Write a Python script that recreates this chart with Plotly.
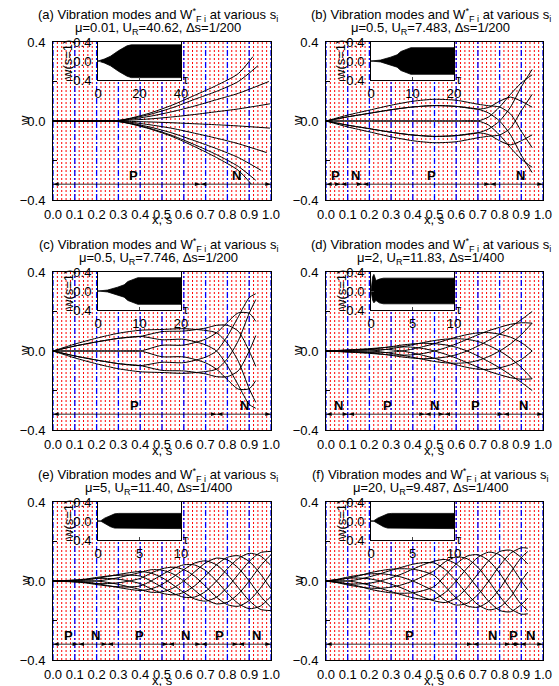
import plotly.graph_objects as go

FONT = "Liberation Sans, Arial, Helvetica, sans-serif"
W, H = 559, 686

# ---------------- data ----------------
panel_tags = ["(a)", "(b)", "(c)", "(d)", "(e)", "(f)"]
mu_vals = ["0.01", "0.5", "0.5", "2", "5", "20"]
ur_vals = ["40.62", "7.483", "7.746", "11.83", "11.40", "9.487"]
ds_vals = ["1/200", "1/200", "1/200", "1/400", "1/400", "1/400"]

x_ticks = [0.0, 0.1, 0.2, 0.3, 0.4, 0.5, 0.6, 0.7, 0.8, 0.9, 1.0]
x_ticktext = ["0.0", "0.1", "0.2", "0.3", "0.4", "0.5", "0.6", "0.7", "0.8", "0.9", "1.0"]
y_ticks = [-0.4, 0.0, 0.4]
y_ticktext = ["\u22120.4", "0.0", "0.4"]

inset_tmax = [40, 20, 20, 10, 10, 10]
inset_ticks = [[0, 20, 40], [0, 10, 20], [0, 10, 20], [0, 5, 10], [0, 5, 10], [0, 5, 10]]

# inset envelopes of w(s=1) vs tau
inset_tau = [
    [0, 3, 6, 10, 14, 16, 40],
    [0, 2.3, 4.7, 6.3, 7.2, 8.8, 9.6, 20],
    [0, 2.3, 4.7, 6.3, 7.2, 8.8, 9.6, 20],
    [0, 0.2, 0.35, 0.6, 1.0, 1.5, 10],
    [0, 0.3, 0.8, 1.5, 2.0, 2.5, 10],
    [0, 0.3, 0.8, 1.5, 2.0, 2.5, 10],
]
inset_up = [
    [0, 0.04, 0.10, 0.22, 0.32, 0.34, 0.34],
    [0, 0.02, 0.08, 0.13, 0.20, 0.25, 0.28, 0.28],
    [0, 0.02, 0.08, 0.13, 0.20, 0.25, 0.28, 0.28],
    [0, 0.30, 0.35, 0.22, 0.25, 0.27, 0.27],
    [0, 0.0, 0.06, 0.12, 0.15, 0.16, 0.16],
    [0, 0.0, 0.06, 0.12, 0.15, 0.16, 0.16],
]
inset_lo = [
    [0, -0.04, -0.10, -0.22, -0.32, -0.35, -0.35],
    [0, -0.02, -0.08, -0.13, -0.20, -0.25, -0.28, -0.28],
    [0, -0.02, -0.08, -0.13, -0.20, -0.25, -0.28, -0.28],
    [0, -0.20, -0.25, -0.20, -0.25, -0.27, -0.27],
    [0, -0.0, -0.06, -0.12, -0.15, -0.16, -0.16],
    [0, -0.0, -0.06, -0.12, -0.15, -0.16, -0.16],
]

# (a) mode shapes: each line its own s / w lists
curves_a = [
    ([0, 0.28, 0.35, 0.45, 0.55, 0.65, 0.75, 0.85, 0.917], [0, 0, 0.013, 0.042, 0.082, 0.13, 0.18, 0.24, 0.326]),
    ([0, 0.28, 0.35, 0.45, 0.55, 0.65, 0.75, 0.85, 0.94], [0, 0, 0.011, 0.035, 0.068, 0.11, 0.15, 0.20, 0.28]),
    ([0, 0.28, 0.35, 0.45, 0.55, 0.65, 0.75, 0.85, 0.99], [0, 0, 0.008, 0.025, 0.048, 0.076, 0.108, 0.14, 0.20]),
    ([0, 0.28, 0.35, 0.45, 0.55, 0.65, 0.75, 0.85, 0.995], [0, 0, 0.004, 0.011, 0.021, 0.033, 0.047, 0.061, 0.087]),
    ([0, 0.28, 0.35, 0.45, 0.55, 0.65, 0.75, 0.85, 0.995], [0, 0, -0.002, -0.005, -0.009, -0.014, -0.019, -0.025, -0.036]),
    ([0, 0.28, 0.35, 0.45, 0.55, 0.65, 0.75, 0.85, 0.98], [0, 0, -0.006, -0.02, -0.038, -0.062, -0.087, -0.115, -0.16]),
    ([0, 0.28, 0.35, 0.45, 0.55, 0.65, 0.75, 0.85, 0.955], [0, 0, -0.01, -0.032, -0.062, -0.10, -0.14, -0.185, -0.25]),
    ([0, 0.28, 0.35, 0.45, 0.55, 0.65, 0.75, 0.85, 0.93], [0, 0, -0.012, -0.039, -0.075, -0.12, -0.17, -0.23, -0.30]),
    ([0, 0.28, 0.35, 0.45, 0.55, 0.65, 0.75, 0.85, 0.91], [0, 0, -0.013, -0.042, -0.08, -0.13, -0.185, -0.25, -0.32]),
]

# (b)-(f): mode shapes as tables, one row per s, one column per snapshot
b_s = [0, 0.1, 0.2, 0.3, 0.4, 0.5, 0.6, 0.7, 0.75, 0.8, 0.85, 0.9, 0.95]
b_w = [
    [0, 0, 0, 0, 0, 0, 0, 0],
    [0.03, 0.021, 0, -0.021, -0.03, -0.021, 0, 0.021],
    [0.055, 0.039, 0, -0.039, -0.055, -0.039, 0, 0.039],
    [0.08, 0.057, 0, -0.057, -0.08, -0.057, 0, 0.057],
    [0.1, 0.071, 0, -0.071, -0.1, -0.071, 0, 0.071],
    [0.11, 0.078, 0, -0.078, -0.11, -0.078, 0, 0.078],
    [0.105, 0.074, 0, -0.074, -0.105, -0.074, 0, 0.074],
    [0.085, 0.06, 0, -0.06, -0.085, -0.06, 0, 0.06],
    [0.077, 0.069, 0.021, -0.04, -0.077, -0.069, -0.021, 0.04],
    [0.071, 0.1, 0.071, 0, -0.071, -0.1, -0.071, 0],
    [0.036, 0.121, 0.135, 0.07, -0.036, -0.121, -0.135, -0.07],
    [-0.052, 0.1, 0.193, 0.173, 0.052, -0.1, -0.193, -0.173],
    [-0.135, 0.07, 0.234, 0.261, 0.135, -0.07, -0.234, -0.261],
]
c_s = [0, 0.1, 0.2, 0.3, 0.4, 0.5, 0.6, 0.7, 0.75, 0.8, 0.85, 0.9, 0.93]
c_w = [
    [0, 0, 0, 0, 0, 0, 0, 0],
    [0.035, 0.025, 0, -0.025, -0.035, -0.025, 0, 0.025],
    [0.065, 0.046, 0, -0.046, -0.065, -0.046, 0, 0.046],
    [0.09, 0.064, 0, -0.064, -0.09, -0.064, 0, 0.064],
    [0.105, 0.074, 0, -0.074, -0.105, -0.074, 0, 0.074],
    [0.109, 0.098, 0.029, -0.057, -0.109, -0.098, -0.029, 0.057],
    [0.113, 0.101, 0.03, -0.059, -0.113, -0.101, -0.03, 0.059],
    [0.104, 0.116, 0.06, -0.031, -0.104, -0.116, -0.06, 0.031],
    [0.092, 0.13, 0.092, 0, -0.092, -0.13, -0.092, 0],
    [0.039, 0.13, 0.145, 0.075, -0.039, -0.13, -0.145, -0.075],
    [-0.052, 0.1, 0.193, 0.173, 0.052, -0.1, -0.193, -0.173],
    [-0.191, 0, 0.191, 0.27, 0.191, 0, -0.191, -0.27],
    [-0.26, -0.078, 0.15, 0.29, 0.26, 0.078, -0.15, -0.29],
]
d_s = [0, 0.1, 0.2, 0.25, 0.3, 0.35, 0.4, 0.45, 0.5, 0.55, 0.6, 0.65, 0.7, 0.75, 0.8, 0.85, 0.9, 0.95]
d_w = [
    [0, 0, 0, 0, 0, 0, 0, 0],
    [0.005, 0.004, 0, -0.004, -0.005, -0.004, 0, 0.004],
    [0.012, 0.008, 0, -0.008, -0.012, -0.008, 0, 0.008],
    [0.016, 0.015, 0.004, -0.009, -0.016, -0.015, -0.004, 0.009],
    [0.02, 0.022, 0.012, -0.006, -0.02, -0.022, -0.012, 0.006],
    [0.021, 0.03, 0.021, 0, -0.021, -0.03, -0.021, 0],
    [0.019, 0.036, 0.032, 0.01, -0.019, -0.036, -0.032, -0.01],
    [0.012, 0.039, 0.043, 0.023, -0.012, -0.039, -0.043, -0.023],
    [0, 0.037, 0.053, 0.037, 0, -0.037, -0.053, -0.037],
    [-0.016, 0.031, 0.06, 0.054, 0.016, -0.031, -0.06, -0.054],
    [-0.036, 0.019, 0.062, 0.07, 0.036, -0.019, -0.062, -0.07],
    [-0.059, 0, 0.059, 0.083, 0.059, 0, -0.059, -0.083],
    [-0.082, -0.025, 0.048, 0.092, 0.082, 0.025, -0.048, -0.092],
    [-0.103, -0.054, 0.028, 0.093, 0.103, 0.054, -0.028, -0.093],
    [-0.12, -0.085, 0, 0.085, 0.12, 0.085, 0, -0.085],
    [-0.135, -0.121, -0.036, 0.07, 0.135, 0.121, 0.036, -0.07],
    [-0.143, -0.159, -0.083, 0.043, 0.143, 0.159, 0.083, -0.043],
    [-0.141, -0.2, -0.141, 0, 0.141, 0.2, 0.141, 0],
]
e_s = [0, 0.1, 0.15, 0.2, 0.25, 0.3, 0.35, 0.4, 0.45, 0.5, 0.55, 0.6, 0.65, 0.7, 0.75, 0.8, 0.85, 0.9, 0.95, 1.0]
e_w = [
    [0, 0, 0, 0, 0, 0, 0, 0],
    [0.005, 0.0035, 0, -0.0035, -0.005, -0.0035, 0, 0.0035],
    [0.01, 0.007, 0, -0.007, -0.01, -0.007, 0, 0.007],
    [0.018, 0.013, 0, -0.013, -0.018, -0.013, 0, 0.013],
    [0.025, 0.023, 0.007, -0.013, -0.025, -0.023, -0.007, 0.013],
    [0.029, 0.033, 0.017, -0.009, -0.029, -0.033, -0.017, 0.009],
    [0.03, 0.042, 0.03, 0, -0.03, -0.042, -0.03, 0],
    [0.025, 0.048, 0.043, 0.013, -0.025, -0.048, -0.043, -0.013],
    [0, 0.04, 0.057, 0.04, 0, -0.04, -0.057, -0.04],
    [-0.032, 0.017, 0.055, 0.062, 0.032, -0.017, -0.055, -0.062],
    [-0.062, -0.019, 0.036, 0.07, 0.062, 0.019, -0.036, -0.07],
    [-0.082, -0.058, 0, 0.058, 0.082, 0.058, 0, -0.058],
    [-0.081, -0.091, -0.047, 0.024, 0.081, 0.091, 0.047, -0.024],
    [-0.053, -0.102, -0.092, -0.027, 0.053, 0.102, 0.092, 0.027],
    [0, -0.082, -0.116, -0.082, 0, 0.082, 0.116, 0.082],
    [0.062, -0.032, -0.107, -0.12, -0.062, 0.032, 0.107, 0.12],
    [0.114, 0.034, -0.066, -0.128, -0.114, -0.034, 0.066, 0.128],
    [0.14, 0.099, 0, -0.099, -0.14, -0.099, 0, 0.099],
    [0.128, 0.143, 0.074, -0.038, -0.128, -0.143, -0.074, 0.038],
    [0.078, 0.15, 0.134, 0.04, -0.078, -0.15, -0.134, -0.04],
]
f_s = [0, 0.05, 0.1, 0.15, 0.2, 0.25, 0.3, 0.35, 0.4, 0.45, 0.5, 0.55, 0.6, 0.65, 0.7, 0.75, 0.8, 0.85, 0.9, 0.93]
f_w = [
    [0, 0, 0, 0, 0, 0, 0, 0],
    [0.008, 0.006, 0, -0.006, -0.008, -0.006, 0, 0.006],
    [0.02, 0.014, 0, -0.014, -0.02, -0.014, 0, 0.014],
    [0.029, 0.026, 0.008, -0.015, -0.029, -0.026, -0.008, 0.015],
    [0.036, 0.041, 0.021, -0.011, -0.036, -0.041, -0.021, 0.011],
    [0.037, 0.052, 0.037, 0, -0.037, -0.052, -0.037, 0],
    [0.031, 0.06, 0.054, 0.016, -0.031, -0.06, -0.054, -0.016],
    [0.019, 0.062, 0.07, 0.036, -0.019, -0.062, -0.07, -0.036],
    [0, 0.06, 0.085, 0.06, 0, -0.06, -0.085, -0.06],
    [-0.025, 0.048, 0.093, 0.083, 0.025, -0.048, -0.093, -0.083],
    [-0.053, 0.027, 0.091, 0.101, 0.053, -0.027, -0.091, -0.101],
    [-0.098, -0.029, 0.057, 0.109, 0.098, 0.029, -0.057, -0.109],
    [-0.122, -0.086, 0, 0.086, 0.122, 0.086, 0, -0.086],
    [-0.113, -0.126, -0.065, 0.034, 0.113, 0.126, 0.065, -0.034],
    [-0.069, -0.133, -0.12, -0.036, 0.069, 0.133, 0.12, 0.036],
    [0, -0.103, -0.146, -0.103, 0, 0.103, 0.146, 0.103],
    [0.077, -0.04, -0.133, -0.149, -0.077, 0.04, 0.133, 0.149],
    [0.14, 0.042, -0.081, -0.156, -0.14, -0.042, 0.081, 0.156],
    [0.168, 0.119, 0, -0.119, -0.168, -0.119, 0, 0.119],
    [0.166, 0.149, 0.045, -0.086, -0.166, -0.149, -0.045, 0.086],
]


def table_to_curves(s_list, table):
    n = len(table[0])
    return [(s_list, [row[k] for row in table]) for k in range(n)]


all_curves = [
    curves_a,
    table_to_curves(b_s, b_w),
    table_to_curves(c_s, c_w),
    table_to_curves(d_s, d_w),
    table_to_curves(e_s, e_w),
    table_to_curves(f_s, f_w),
]

# P / N regions: boundaries, labels, label positions
seg_bounds = [
    [0.0, 0.677, 1.0],
    [0.0, 0.068, 0.169, 0.756, 1.0],
    [0.0, 0.751, 1.0],
    [0.0, 0.103, 0.456, 0.545, 0.817, 1.0],
    [0.0, 0.116, 0.249, 0.529, 0.679, 0.85, 1.0],
    [0.0, 0.676, 0.851, 0.894, 1.0],
]
seg_labels = [
    ["P", "N"],
    ["P", "N", "P", "N"],
    ["P", "N"],
    ["N", "P", "N", "P", "N"],
    ["P", "N", "P", "N", "P", "N"],
    ["P", "N", "P", "N"],
]
seg_label_pos = [
    [0.37, 0.84],
    [0.046, 0.135, 0.487, 0.894],
    [0.373, 0.88],
    [0.057, 0.284, 0.502, 0.687, 0.909],
    [0.07, 0.197, 0.399, 0.606, 0.766, 0.934],
    [0.387, 0.766, 0.863, 0.943],
]
arrow_w = -0.32
label_w = -0.275

red_grid = [k / 50 for k in range(1, 50)]
blue_grid = [k / 10 for k in range(0, 11)]

# ---------------- layout geometry (pixels) ----------------
cols = [(53, 271), (326, 543)]
rows = [(42, 200), (272, 430), (502, 660)]


def px(x):
    return x / W


def py(y):
    return 1 - y / H


fig = go.Figure()
layout = dict(
    width=W, height=H, margin=dict(l=0, r=0, t=0, b=0, autoexpand=False),
    paper_bgcolor="white", plot_bgcolor="white", showlegend=False,
    font=dict(family=FONT, size=13, color="black"),
)
annotations = []

for i in range(6):
    c, r = i % 2, i // 2
    L, R = cols[c]
    T, B = rows[r]
    mx = 2 * i + 1
    ix = 2 * i + 2
    mxn = "x" if mx == 1 else f"x{mx}"
    myn = "y" if mx == 1 else f"y{mx}"
    ixn, iyn = f"x{ix}", f"y{ix}"

    # grid lines
    gx, gy = [], []
    for g in red_grid:
        gx += [g, g, None]
        gy += [-0.4, 0.4, None]
    fig.add_trace(go.Scatter(x=gx, y=gy, mode="lines", xaxis=mxn, yaxis=myn,
                             line=dict(color="red", width=1, dash="2px,2px"), hoverinfo="skip"))
    bx, by = [], []
    for g in blue_grid:
        bx += [g, g, None]
        by += [-0.4, 0.4, None]
    fig.add_trace(go.Scatter(x=bx, y=by, mode="lines", xaxis=mxn, yaxis=myn,
                             line=dict(color="blue", width=1.3, dash="6px,2px,2px,2px"), hoverinfo="skip"))
    # curves
    for (s, w) in all_curves[i]:
        fig.add_trace(go.Scatter(x=s, y=w, mode="lines", xaxis=mxn, yaxis=myn,
                                 line=dict(color="black", width=1, shape="spline", smoothing=0.7),
                                 hoverinfo="skip"))
    # P/N double arrows
    b = seg_bounds[i]
    fig.add_trace(go.Scatter(x=[b[0], b[-1]], y=[arrow_w, arrow_w], mode="lines",
                             line=dict(color="black", width=0.8), xaxis=mxn, yaxis=myn,
                             hoverinfo="skip"))
    fig.add_trace(go.Scatter(x=b[1:], y=[arrow_w] * (len(b) - 1), mode="markers",
                             marker=dict(symbol="arrow", angle=90, size=6, color="black"),
                             xaxis=mxn, yaxis=myn, hoverinfo="skip"))
    fig.add_trace(go.Scatter(x=b[:-1], y=[arrow_w] * (len(b) - 1), mode="markers",
                             marker=dict(symbol="arrow", angle=-90, size=6, color="black"),
                             xaxis=mxn, yaxis=myn, hoverinfo="skip"))
    for lab, pos in zip(seg_labels[i], seg_label_pos[i]):
        annotations.append(dict(x=pos, y=label_w, xref=mxn, yref=myn, text=f"<b>{lab}</b>",
                                showarrow=False, font=dict(size=13)))

    # inset
    tmax = inset_tmax[i]
    fig.add_trace(go.Scatter(x=[0, tmax, tmax, 0, 0], y=[-0.4, -0.4, 0.4, 0.4, -0.4], mode="lines",
                             fill="toself", fillcolor="white", line=dict(width=0),
                             xaxis=ixn, yaxis=iyn, hoverinfo="skip"))
    tt = inset_tau[i]
    fig.add_trace(go.Scatter(x=tt + tt[::-1], y=inset_up[i] + inset_lo[i][::-1], mode="lines",
                             fill="toself", fillcolor="black", line=dict(color="black", width=0.8),
                             xaxis=ixn, yaxis=iyn, hoverinfo="skip"))

    main_x = dict(domain=[px(L), px(R)], range=[0, 1], tickvals=x_ticks, ticktext=x_ticktext,
                  showgrid=False, zeroline=False, showline=True, mirror=True, linecolor="black",
                  linewidth=1, ticks="", tickfont=dict(size=13), anchor=myn, ticklabelstandoff=2)
    main_y = dict(domain=[py(B), py(T)], range=[-0.4, 0.4], tickvals=y_ticks, ticktext=y_ticktext,
                  showgrid=False, zeroline=False, showline=True, mirror=True, linecolor="black",
                  linewidth=1, ticks="inside", ticklen=4, tickcolor="black",
                  minor=dict(dtick=0.2, ticks="inside", ticklen=4, tickcolor="black"),
                  tickfont=dict(size=13), anchor=mxn, ticklabelstandoff=4)
    layout["xaxis" if mx == 1 else f"xaxis{mx}"] = main_x
    layout["yaxis" if mx == 1 else f"yaxis{mx}"] = main_y
    IL, IR, IT, IB = L + 45, L + 128, T, T + 38
    layout[f"xaxis{ix}"] = dict(domain=[px(IL), px(IR)], range=[0, tmax], tickvals=inset_ticks[i],
                                showgrid=False, zeroline=False, showline=True, mirror=True,
                                linecolor="black", linewidth=1, ticks="inside", ticklen=3,
                                tickfont=dict(size=13), anchor=iyn, ticklabelstandoff=1)
    layout[f"yaxis{ix}"] = dict(domain=[py(IB), py(IT)], range=[-0.4, 0.4], tickvals=y_ticks,
                                ticktext=y_ticktext, showgrid=False, zeroline=False, showline=True,
                                mirror=True, linecolor="black", linewidth=1, ticks="inside",
                                ticklen=3, tickfont=dict(size=13), anchor=ixn, ticklabelstandoff=3)

    # texts
    cx = (L + R) / 2 - 4
    annotations.append(dict(x=px(cx), y=py(T - 27), xref="paper", yref="paper",
                            text=f"{panel_tags[i]} Vibration modes and W<sup>*</sup><sub>F i</sub> at various s<sub>i</sub>",
                            showarrow=False, font=dict(size=13), xanchor="center", yanchor="middle"))
    annotations.append(dict(x=px(cx), y=py(T - 14), xref="paper", yref="paper",
                            text=f"\u03bc={mu_vals[i]}, U<sub>R</sub>={ur_vals[i]}, \u0394s={ds_vals[i]}",
                            showarrow=False, font=dict(size=13), xanchor="center", yanchor="middle"))
    annotations.append(dict(x=px((L + R) / 2), y=py(B + 20), xref="paper", yref="paper", text="x, s",
                            showarrow=False, font=dict(size=13), xanchor="center", yanchor="middle"))
    annotations.append(dict(x=px(L - 28), y=py((T + B) / 2), xref="paper", yref="paper", text="w",
                            showarrow=False, textangle=-90, font=dict(size=13),
                            xanchor="center", yanchor="middle"))
    annotations.append(dict(x=px(L + 15), y=py(T + 18), xref="paper", yref="paper", text="w(s=1)",
                            showarrow=False, textangle=-90, font=dict(size=13),
                            xanchor="center", yanchor="middle"))
    annotations.append(dict(x=px(IR + 5), y=py(IB - 1), xref="paper", yref="paper", text="\u03c4",
                            showarrow=False, font=dict(size=13), xanchor="center", yanchor="middle"))

layout["annotations"] = annotations
fig.update_layout(**layout)
fig.write_html(
    "out.html",
    config={"displayModeBar": False},
    post_script="document.body.style.margin='0';document.body.style.overflow='hidden';",
)
